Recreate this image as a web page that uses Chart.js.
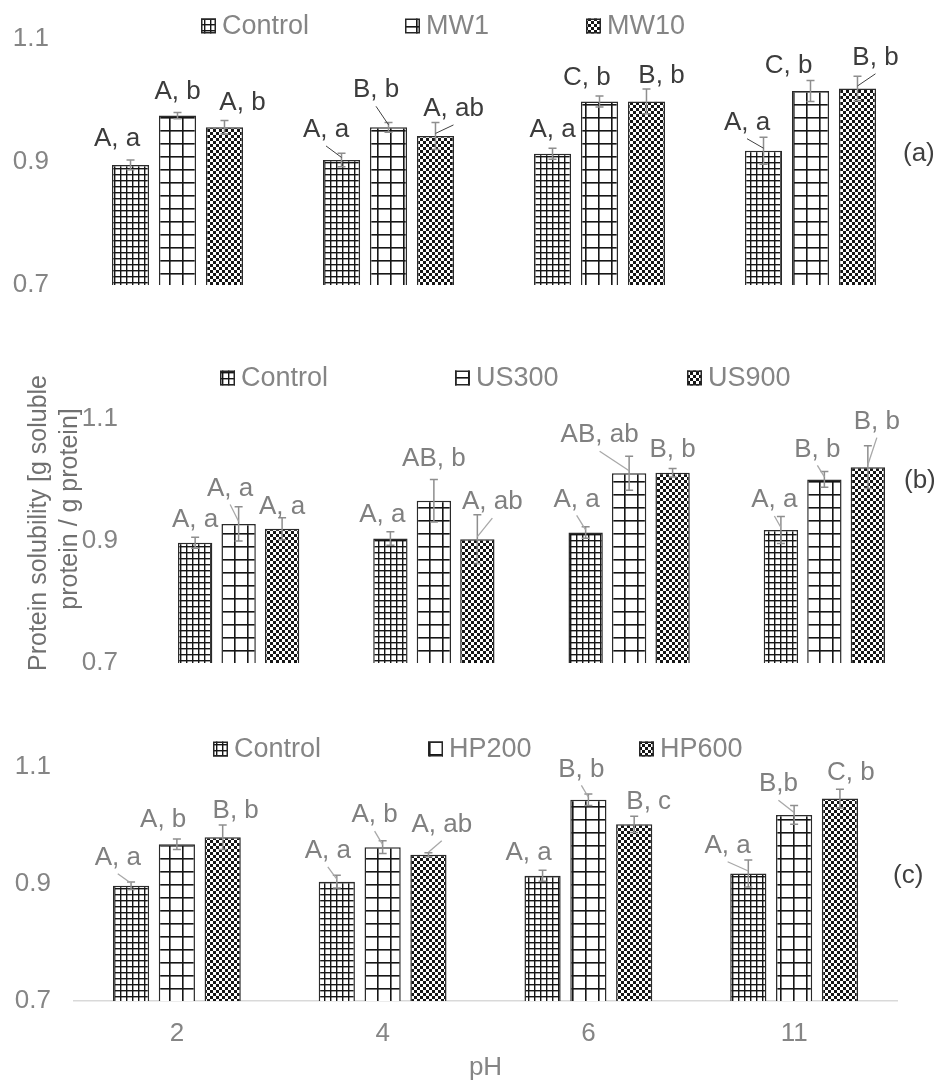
<!DOCTYPE html>
<html>
<head>
<meta charset="utf-8">
<script src="https://cdn.jsdelivr.net/npm/chart.js@4.4.1/dist/chart.umd.min.js"></script>
<style>
  html, body { margin: 0; padding: 0; background: #fff; }
  #wrap { position: relative; width: 934px; height: 1080px; overflow: hidden; background: #fff; }
  #wrap canvas { position: absolute; left: 0; top: 0; }
</style>
</head>
<body>
<div id="wrap">
  <canvas id="chartA" width="934" height="1080"></canvas>
  <canvas id="chartB" width="934" height="1080"></canvas>
  <canvas id="chartC" width="934" height="1080"></canvas>
</div>
<script>
// ---------------- DATA ----------------
const categories = ['2', '4', '6', '11'];
const yTickValues = [0.7, 0.9, 1.1];
const xAxisTitle = 'pH';
const yAxisTitleLines = ['Protein solubility [g soluble', 'protein / g protein]'];

// Panel (a)
const seriesA = ['Control', 'MW1', 'MW10'];
const controlA = [0.895, 0.903, 0.913, 0.918];
const mw1A = [0.975, 0.956, 0.998, 1.015];
const mw10A = [0.956, 0.942, 0.998, 1.019];
const controlAErr = [0.008, 0.011, 0.009, 0.022];
const mw1AErr = [0.005, 0.008, 0.009, 0.017];
const mw10AErr = [0.011, 0.022, 0.020, 0.020];
const controlALetters = ['A, a', 'A, a', 'A, a', 'A, a'];
const mw1ALetters = ['A, b', 'B, b', 'C, b', 'C, b'];
const mw10ALetters = ['A, b', 'A, ab', 'B, b', 'B, b'];

// Panel (b)
const seriesB = ['Control', 'US300', 'US900'];
const controlB = [0.897, 0.904, 0.914, 0.918];
const us300B = [0.928, 0.966, 1.011, 1.001];
const us900B = [0.920, 0.903, 1.012, 1.021];
const controlBErr = [0.009, 0.011, 0.0095, 0.022];
const us300BErr = [0.028, 0.035, 0.028, 0.013];
const us900BErr = [0.018, 0.040, 0.007, 0.035];
const controlBLetters = ['A, a', 'A, a', 'A, a', 'A, a'];
const us300BLetters = ['A, a', 'AB, b', 'AB, ab', 'B, b'];
const us900BLetters = ['A, a', 'A, ab', 'B, b', 'B, b'];

// Panel (c)
const seriesC = ['Control', 'HP200', 'HP600'];
const controlC = [0.897, 0.904, 0.914, 0.918];
const hp200C = [0.968, 0.963, 1.044, 1.018];
const hp600C = [0.980, 0.950, 1.002, 1.046];
const controlCErr = [0.0065, 0.011, 0.0094, 0.023];
const hp200CErr = [0.009, 0.011, 0.010, 0.016];
const hp600CErr = [0.021, 0.0035, 0.014, 0.016];
const controlCLetters = ['A, a', 'A, a', 'A, a', 'A, a'];
const hp200CLetters = ['A, b', 'A, b', 'B, b', 'B,b'];
const hp600CLetters = ['B, b', 'A, ab', 'B, c', 'C, b'];

// ---------------- LAYOUT (pixels) ----------------
// label offsets relative to bar top-centre: [dx, dy, leaderLine]
const labelOffsetsA = [
  [[-13.5, -26, 0], [-15.5, -30, 1], [0, -24, 0], [-16.5, -28, 1]],
  [[0, -24, 0], [-12.5, -37, 1], [-12.7, -24, 0], [-22, -25, 0]],
  [[18, -24, 0], [18, -27, 1], [15, -26, 0], [18, -30.7, 1]]
];
const labelOffsetsB = [
  [[0, -23, 0], [-8, -24, 0], [-9, -33, 1], [-6.5, -30, 1]],
  [[-8.5, -35.4, 1], [0, -42, 0], [-29.5, -38, 1], [-7, -30, 1]],
  [[0, -22, 0], [15, -37, 1], [0, -23, 0], [9, -45.6, 1]]
];
const labelOffsetsC = [
  [[-13.3, -28, 1], [-9, -30.7, 1], [-14, -23, 0], [-20.7, -27.7, 1]],
  [[-13.7, -24, 0], [-8, -32, 1], [-7, -30.4, 1], [-15.7, -30.7, 1]],
  [[13, -26.6, 0], [13.3, -30, 1], [14.5, -23, 0], [11, -25.4, 0]]
];

const FONT = '"Liberation Sans", Arial, Helvetica, sans-serif';
Chart.defaults.font.family = FONT;
const W = 934, H = 1080;
const GREY_TEXT = '#858585';

function buildPatterns(ctx) {
  function tile(w, h, draw) {
    const c = document.createElement('canvas');
    c.width = w; c.height = h;
    const g = c.getContext('2d');
    g.fillStyle = '#fff'; g.fillRect(0, 0, w, h);
    g.fillStyle = '#161616';
    draw(g, w, h);
    return ctx.createPattern(c, 'repeat');
  }
  return [
    tile(6, 6, (g, w, h) => { g.fillRect(0, 0, w, 1.4); g.fillRect(0, 0, 1.4, h); }),
    tile(13, 13, (g, w, h) => { g.fillRect(0, 0, w, 1.6); g.fillRect(0, 0, 1.6, h); }),
    tile(6, 6, (g) => { g.fillRect(0, 0, 3, 3); g.fillRect(3, 3, 3, 3); })
  ];
}

function makePanel(id, p) {
  const canvas = document.getElementById(id);
  const ctx = canvas.getContext('2d');
  const fills = buildPatterns(ctx);
  const area = p.area;

  const datasets = p.series.map((name, i) => ({
    label: name,
    data: p.values[i],
    backgroundColor: fills[i],
    borderColor: '#2a2a2a',
    borderWidth: 1.5,
    borderSkipped: false,
    categoryPercentage: 0.668,
    barPercentage: 0.79
  }));

  const decor = {
    id: 'decor_' + id,
    afterDatasetsDraw(chart) {
      const c = chart.ctx;
      const ys = chart.scales.y;
      c.save();
      // error bars
      chart.data.datasets.forEach((ds, i) => {
        const meta = chart.getDatasetMeta(i);
        meta.data.forEach((bar, j) => {
          const v = ds.data[j], e = p.errors[i][j];
          const x = bar.x;
          const y1 = ys.getPixelForValue(v + e), y2 = ys.getPixelForValue(v - e);
          c.strokeStyle = '#8e8e8e';
          c.lineWidth = 1.5;
          c.beginPath();
          c.moveTo(x, y1); c.lineTo(x, y2);
          c.moveTo(x - 4, y1); c.lineTo(x + 4, y1);
          c.moveTo(x - 4, y2); c.lineTo(x + 4, y2);
          c.stroke();
        });
      });
      // leader lines and letter labels
      c.font = '26px ' + FONT;
      c.textAlign = 'center';
      c.textBaseline = 'middle';
      chart.data.datasets.forEach((ds, i) => {
        const meta = chart.getDatasetMeta(i);
        meta.data.forEach((bar, j) => {
          const [dx, dy, lead] = p.offsets[i][j];
          const lx = bar.x + dx, ly = bar.y + dy;
          if (lead) {
            c.strokeStyle = p.leaderColor;
            c.lineWidth = p.leaderWidth;
            c.beginPath();
            c.moveTo(lx, ly + 16);
            c.lineTo(bar.x, bar.y - 2.5);
            c.stroke();
          }
          c.fillStyle = p.labelColor;
          c.fillText(p.letters[i][j], lx, ly);
        });
      });
      c.restore();
    },
    afterDraw(chart) {
      const c = chart.ctx;
      c.save();
      // legend
      c.font = '27px ' + FONT;
      c.textAlign = 'left';
      c.textBaseline = 'middle';
      p.series.forEach((name, i) => {
        const bx = p.legendX[i], by = p.legendY - 7.5;
        c.fillStyle = fills[i];
        c.fillRect(bx, by, 15, 15);
        c.strokeStyle = '#262626';
        c.lineWidth = 1.5;
        c.strokeRect(bx + 0.75, by + 0.75, 13.5, 13.5);
        c.fillStyle = GREY_TEXT;
        c.fillText(name, bx + 21, p.legendY + 1);
      });
      // panel tag
      c.font = '26px ' + FONT;
      c.fillStyle = '#404040';
      c.fillText(p.tag, p.tagX, p.tagY);
      // shared y-axis title
      if (p.yTitle) {
        c.font = '25px ' + FONT;
        c.fillStyle = '#707070';
        c.textAlign = 'center';
        p.yTitle.forEach((line, k) => {
          const pos = p.yTitlePos[k];
          c.save();
          c.translate(pos[0], pos[1]);
          c.rotate(-Math.PI / 2);
          c.fillText(line, 0, 0);
          c.restore();
        });
      }
      c.restore();
    }
  };

  return new Chart(ctx, {
    type: 'bar',
    data: { labels: categories, datasets },
    plugins: [decor],
    options: {
      responsive: false,
      maintainAspectRatio: false,
      animation: false,
      events: [],
      layout: {
        padding: { left: 0, right: W - area.r, top: area.t, bottom: p.showX ? 0 : H - area.b }
      },
      plugins: { legend: { display: false }, tooltip: { enabled: false }, title: { display: false } },
      scales: {
        x: {
          type: 'category',
          display: p.showX,
          offset: true,
          grid: { display: false, drawTicks: false },
          border: { display: true, color: '#d9d9d9', width: 1.5 },
          ticks: { color: GREY_TEXT, font: { size: 26 }, padding: 17, maxRotation: 0, autoSkip: false },
          title: { display: true, text: xAxisTitle, color: GREY_TEXT, font: { size: 26, lineHeight: 0.9 }, padding: 0 },
          afterFit: (s) => { if (p.showX) { s.height = H - area.b; } }
        },
        y: {
          type: 'linear',
          min: 0.7,
          max: 1.1,
          afterBuildTicks: (s) => { s.ticks = yTickValues.map(v => ({ value: v })); },
          grid: { display: false, drawTicks: false },
          border: { display: false },
          ticks: { color: GREY_TEXT, font: { size: 26 }, padding: 23, callback: (v) => Number(v).toFixed(1) },
          afterFit: (s) => { s.width = area.l; }
        }
      }
    }
  });
}

makePanel('chartA', {
  series: seriesA,
  values: [controlA, mw1A, mw10A],
  errors: [controlAErr, mw1AErr, mw10AErr],
  letters: [controlALetters, mw1ALetters, mw10ALetters],
  offsets: labelOffsetsA,
  labelColor: '#3c3c3c', leaderColor: '#404040', leaderWidth: 1,
  area: { l: 72, r: 916, t: 33, b: 285 },
  legendX: [201, 405, 586], legendY: 26,
  tag: '(a)', tagX: 903, tagY: 154,
  showX: false
});

makePanel('chartB', {
  series: seriesB,
  values: [controlB, us300B, us900B],
  errors: [controlBErr, us300BErr, us900BErr],
  letters: [controlBLetters, us300BLetters, us900BLetters],
  offsets: labelOffsetsB,
  labelColor: '#808080', leaderColor: '#a8a8a8', leaderWidth: 1.3,
  area: { l: 141, r: 922, t: 419, b: 663 },
  legendX: [220, 455, 687], legendY: 378,
  tag: '(b)', tagX: 904, tagY: 481,
  yTitle: yAxisTitleLines, yTitlePos: [[39.5, 523], [70.5, 509]],
  showX: false
});

makePanel('chartC', {
  series: seriesC,
  values: [controlC, hp200C, hp600C],
  errors: [controlCErr, hp200CErr, hp600CErr],
  letters: [controlCLetters, hp200CLetters, hp600CLetters],
  offsets: labelOffsetsC,
  labelColor: '#808080', leaderColor: '#a8a8a8', leaderWidth: 1.3,
  area: { l: 74, r: 897, t: 767, b: 1001 },
  legendX: [213, 428, 639], legendY: 749,
  tag: '(c)', tagX: 893, tagY: 876,
  showX: true
});
</script>
</body>
</html>
